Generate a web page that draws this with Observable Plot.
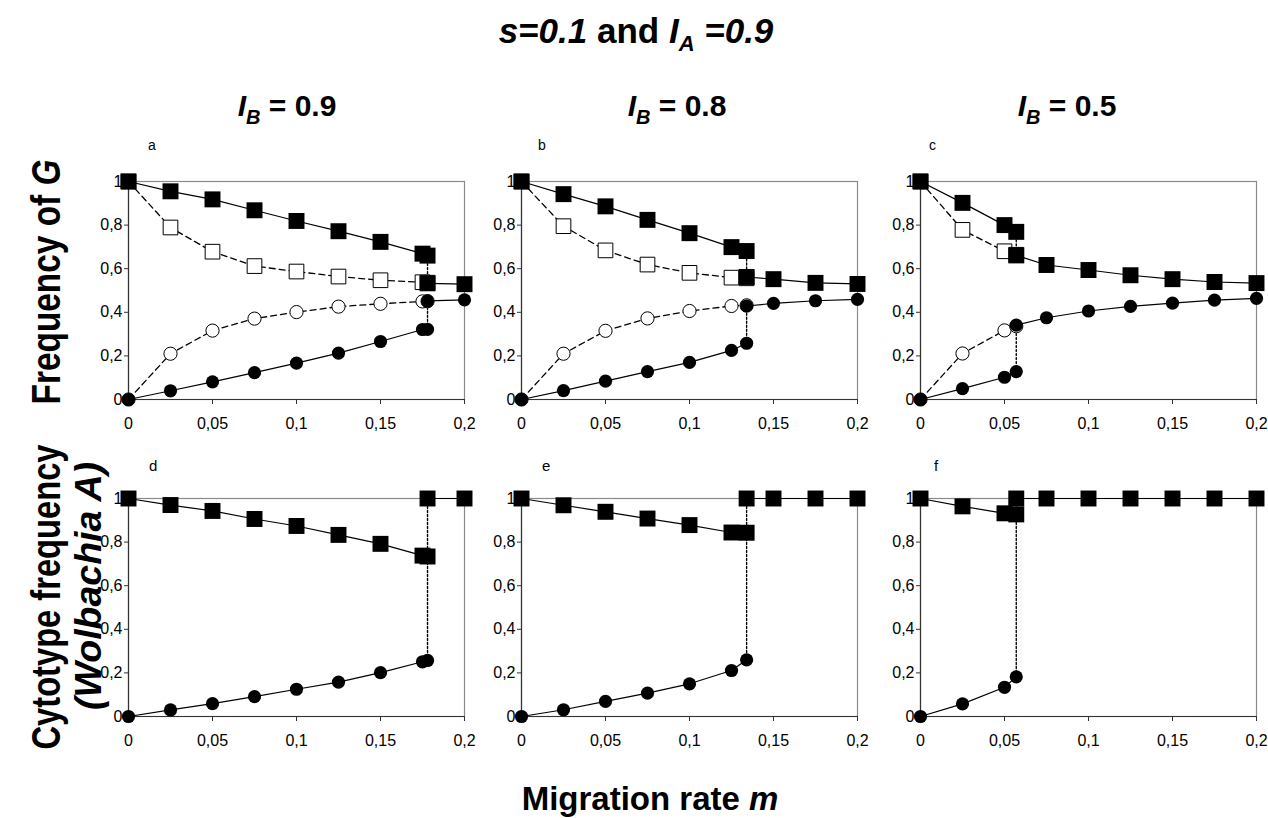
<!DOCTYPE html>
<html>
<head>
<meta charset="utf-8">
<script src="https://cdn.jsdelivr.net/npm/d3@7"></script>
<script src="https://cdn.jsdelivr.net/npm/@observablehq/plot@0.6"></script>
<style>
  body { margin: 0; background: #fff; }
  #fig { position: relative; width: 1268px; height: 818px; overflow: hidden; background: #fff;
         font-family: Arial, "Liberation Sans", sans-serif; }
  .panel { position: absolute; }
  .panel svg g[aria-label="x-axis tick label"] text,
  .panel svg g[aria-label="y-axis tick label"] text,
  .panel svg text { font-size: 16px !important; font-family: Arial, "Liberation Sans", sans-serif !important; fill: #000; }
  #txt { position: absolute; left: 0; top: 0; pointer-events: none; }
</style>
</head>
<body>
<div id="fig">
<svg id="txt" width="1268" height="818" font-family="Arial, 'Liberation Sans', sans-serif" fill="#000">
  <text x="636" y="43" text-anchor="middle" font-size="35" font-weight="bold"><tspan font-style="italic">s=0.1</tspan> and <tspan font-style="italic">I</tspan><tspan font-style="italic" font-size="22" dy="8">A</tspan><tspan font-style="italic" dy="-8"> =0.9</tspan></text>
  <text x="287" y="116" text-anchor="middle" font-size="30" font-weight="bold"><tspan font-style="italic">I</tspan><tspan font-style="italic" font-size="20" dy="8">B</tspan><tspan dy="-8"> = 0.9</tspan></text>
  <text x="677" y="116" text-anchor="middle" font-size="30" font-weight="bold"><tspan font-style="italic">I</tspan><tspan font-style="italic" font-size="20" dy="8">B</tspan><tspan dy="-8"> = 0.8</tspan></text>
  <text x="1067" y="116" text-anchor="middle" font-size="30" font-weight="bold"><tspan font-style="italic">I</tspan><tspan font-style="italic" font-size="20" dy="8">B</tspan><tspan dy="-8"> = 0.5</tspan></text>
  <text x="148" y="150" font-size="14">a</text>
  <text x="538" y="150" font-size="14">b</text>
  <text x="929" y="150" font-size="14">c</text>
  <text x="149" y="471" font-size="15">d</text>
  <text x="542" y="471" font-size="15">e</text>
  <text x="934" y="471" font-size="15">f</text>
  <text transform="translate(60,282) rotate(-90)" text-anchor="middle" font-size="40" font-weight="bold" textLength="245" lengthAdjust="spacingAndGlyphs">Frequency of <tspan font-style="italic">G</tspan></text>
  <text transform="translate(60,597) rotate(-90)" text-anchor="middle" font-size="40" font-weight="bold" textLength="305" lengthAdjust="spacingAndGlyphs">Cytotype frequency</text>
  <text transform="translate(101,586) rotate(-90)" text-anchor="middle" font-size="37" font-weight="bold" font-style="italic" textLength="248" lengthAdjust="spacingAndGlyphs">(Wolbachia A)</text>
  <text x="650" y="810" text-anchor="middle" font-size="33" font-weight="bold">Migration rate <tspan font-style="italic">m</tspan></text>
</svg>
</div>
<script>
// ---- axis ticks ----
const xTickValues = [0, 0.05, 0.1, 0.15, 0.2];
const xTickLabels = ["0", "0,05", "0,1", "0,15", "0,2"];
const yTickValues = [0, 0.2, 0.4, 0.6, 0.8, 1];
const yTickLabels = ["0", "0,2", "0,4", "0,6", "0,8", "1"];

// ---- panel a (I_B = 0.9), frequency of G ----
const aM1 = [0, 0.025, 0.05, 0.075, 0.1, 0.125, 0.15, 0.175, 0.178];
const aSqFilled1 = [1, 0.955, 0.918, 0.868, 0.819, 0.772, 0.723, 0.669, 0.66];
const aSqOpen = [1, 0.789, 0.678, 0.612, 0.587, 0.564, 0.547, 0.538, 0.536];
const aCirOpen = [0, 0.21, 0.316, 0.371, 0.401, 0.426, 0.439, 0.45, 0.451];
const aCirFilled1 = [0, 0.04, 0.081, 0.123, 0.167, 0.213, 0.266, 0.321, 0.322];
const aM2 = [0.178, 0.2];
const aSqFilled2 = [0.533, 0.529];
const aCirFilled2 = [0.452, 0.457];

// ---- panel b (I_B = 0.8) ----
const bM1 = [0, 0.025, 0.05, 0.075, 0.1, 0.125, 0.134];
const bSqFilled1 = [1, 0.942, 0.886, 0.824, 0.763, 0.699, 0.681];
const bSqOpen = [1, 0.795, 0.684, 0.619, 0.581, 0.559, 0.556];
const bCirOpen = [0, 0.21, 0.315, 0.372, 0.406, 0.429, 0.432];
const bCirFilled1 = [0, 0.041, 0.084, 0.128, 0.17, 0.225, 0.258];
const bM2 = [0.134, 0.15, 0.175, 0.2];
const bSqFilled2 = [0.562, 0.552, 0.535, 0.53];
const bCirFilled2 = [0.429, 0.441, 0.453, 0.459];

// ---- panel c (I_B = 0.5) ----
const cM1 = [0, 0.025, 0.05, 0.057];
const cSqFilled1 = [1, 0.902, 0.8, 0.769];
const cSqOpen = [1, 0.778, 0.68, 0.664];
const cCirOpen = [0, 0.211, 0.317, 0.336];
const cCirFilled1 = [0, 0.05, 0.102, 0.128];
const cM2 = [0.057, 0.075, 0.1, 0.125, 0.15, 0.175, 0.2];
const cSqFilled2 = [0.661, 0.617, 0.594, 0.57, 0.552, 0.539, 0.534];
const cCirFilled2 = [0.341, 0.375, 0.406, 0.427, 0.442, 0.456, 0.464];

// ---- panels d, e, f: cytotype frequency (Wolbachia A) ----
const dM1 = [0, 0.025, 0.05, 0.075, 0.1, 0.125, 0.15, 0.175, 0.178];
const dSq1 = [1, 0.97, 0.943, 0.906, 0.874, 0.833, 0.792, 0.738, 0.734];
const dCir1 = [0, 0.03, 0.059, 0.091, 0.125, 0.158, 0.201, 0.251, 0.257];
const dM2 = [0.178, 0.2];
const dSq2 = [1, 1];

const eM1 = [0, 0.025, 0.05, 0.075, 0.1, 0.125, 0.134];
const eSq1 = [1, 0.969, 0.939, 0.908, 0.878, 0.844, 0.843];
const eCir1 = [0, 0.031, 0.069, 0.107, 0.15, 0.211, 0.26];
const eM2 = [0.134, 0.15, 0.175, 0.2];
const eSq2 = [1, 1, 1, 1];

const fM1 = [0, 0.025, 0.05, 0.057];
const fSq1 = [1, 0.964, 0.932, 0.927];
const fCir1 = [0, 0.058, 0.134, 0.182];
const fM2 = [0.057, 0.075, 0.1, 0.125, 0.15, 0.175, 0.2];
const fSq2 = [1, 1, 1, 1, 1, 1, 1];

// ---- layout ----
const ML = 45, MR = 9, MT = 12, MB = 40, IW = 336, IH = 218;
const colX = [128, 521, 920];
const rowY = [181, 498];

const pts = (xs, ys) => xs.map((x, i) => ({x, y: ys[i]}));
const SQ_R = 9, CI_R = 6.6;

function solid(d) { return Plot.line(d, {x: "x", y: "y", stroke: "black", strokeWidth: 1.2}); }
function dashed(d) { return Plot.line(d, {x: "x", y: "y", stroke: "black", strokeWidth: 1.3, strokeDasharray: "6,4"}); }
function dotted(d) { return Plot.line(d, {x: "x", y: "y", stroke: "black", strokeWidth: 1.4, strokeDasharray: "2,2"}); }
function sqFilled(d) { return Plot.dot(d, {x: "x", y: "y", symbol: "square", r: SQ_R, fill: "black", stroke: "none"}); }
function sqOpen(d) { return Plot.dot(d, {x: "x", y: "y", symbol: "square", r: SQ_R * 0.92, fill: "white", stroke: "black", strokeWidth: 1}); }
function ciFilled(d) { return Plot.dot(d, {x: "x", y: "y", symbol: "circle", r: CI_R, fill: "black", stroke: "none"}); }
function ciOpen(d) { return Plot.dot(d, {x: "x", y: "y", symbol: "circle", r: CI_R, fill: "white", stroke: "black", strokeWidth: 1}); }

function frameMarks() {
  return [
    Plot.frame({stroke: "#8a8a8a", strokeWidth: 1.2}),
    Plot.ruleX([0], {stroke: "#333", strokeWidth: 1.2}),
    Plot.ruleY([0], {stroke: "#333", strokeWidth: 1.2}),
    Plot.axisX({ticks: xTickValues, tickFormat: d => xTickLabels[xTickValues.indexOf(d)], tickSize: 5, tickPadding: 13, fontSize: 16, stroke: "#333"}),
    Plot.axisY({ticks: yTickValues, tickFormat: d => yTickLabels[yTickValues.indexOf(d)], tickSize: 4, tickPadding: 2, fontSize: 16, stroke: "#333"})
  ];
}

function makePlot(marks, col, row) {
  const p = Plot.plot({
    width: ML + IW + MR, height: MT + IH + MB,
    marginLeft: ML, marginRight: MR, marginTop: MT, marginBottom: MB,
    x: {domain: [0, 0.2], label: null},
    y: {domain: [0, 1], label: null},
    style: {fontFamily: "Arial, 'Liberation Sans', sans-serif", fontSize: "16px", background: "transparent", overflow: "visible", color: "black"},
    marks: [...frameMarks(), ...marks]
  });
  const div = document.createElement("div");
  div.className = "panel";
  div.style.left = (colX[col] - ML) + "px";
  div.style.top = (rowY[row] - MT) + "px";
  div.appendChild(p);
  document.getElementById("fig").insertBefore(div, document.getElementById("txt"));
}

function topPanel(M1, sF1, sO, cO, cF1, M2, sF2, cF2, col) {
  const jumpSq = [{x: M1[M1.length - 1], y: sF1[sF1.length - 1]}, {x: M2[0], y: sF2[0]}];
  const jumpCi = [{x: M1[M1.length - 1], y: cF1[cF1.length - 1]}, {x: M2[0], y: cF2[0]}];
  makePlot([
    dashed(pts(M1, sO)), dashed(pts(M1, cO)),
    solid(pts(M1, sF1)), solid(pts(M1, cF1)),
    solid(pts(M2, sF2)), solid(pts(M2, cF2)),
    dotted(jumpSq), dotted(jumpCi),
    sqOpen(pts(M1, sO)), ciOpen(pts(M1, cO)),
    sqFilled(pts(M1, sF1)), ciFilled(pts(M1, cF1)),
    sqFilled(pts(M2, sF2)), ciFilled(pts(M2, cF2))
  ], col, 0);
}

function bottomPanel(M1, s1, c1, M2, s2, col) {
  const jump = [{x: M2[0], y: s2[0]}, {x: M1[M1.length - 1], y: c1[c1.length - 1]}];
  makePlot([
    solid(pts(M1, s1)), solid(pts(M1, c1)), solid(pts(M2, s2)),
    dotted(jump),
    sqFilled(pts(M1, s1)), ciFilled(pts(M1, c1)), sqFilled(pts(M2, s2))
  ], col, 1);
}

topPanel(aM1, aSqFilled1, aSqOpen, aCirOpen, aCirFilled1, aM2, aSqFilled2, aCirFilled2, 0);
topPanel(bM1, bSqFilled1, bSqOpen, bCirOpen, bCirFilled1, bM2, bSqFilled2, bCirFilled2, 1);
topPanel(cM1, cSqFilled1, cSqOpen, cCirOpen, cCirFilled1, cM2, cSqFilled2, cCirFilled2, 2);
bottomPanel(dM1, dSq1, dCir1, dM2, dSq2, 0);
bottomPanel(eM1, eSq1, eCir1, eM2, eSq2, 1);
bottomPanel(fM1, fSq1, fCir1, fM2, fSq2, 2);
</script>
</body>
</html>
